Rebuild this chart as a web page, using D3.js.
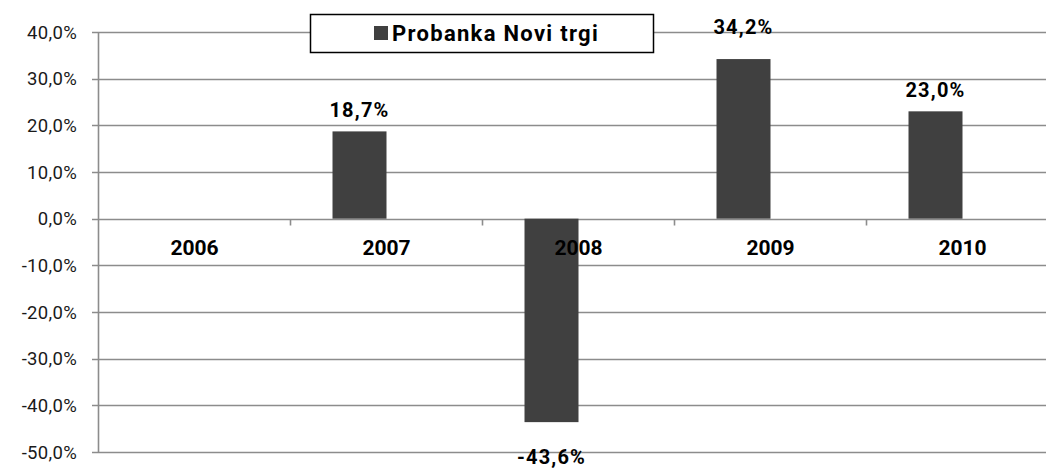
<!DOCTYPE html>
<html>
<head>
<meta charset="utf-8">
<script src="https://cdn.jsdelivr.net/npm/d3@7"></script>
<style>
  html, body { margin: 0; padding: 0; background: #fff; }
  svg { display: block; }
</style>
</head>
<body>
<svg id="chart" width="1046" height="470"></svg>
<script>
// ---- data ----
const years = ["2006", "2007", "2008", "2009", "2010"];
const values = [null, 18.7, -43.6, 34.2, 23.0];
const seriesName = "Probanka Novi trgi";
const yTickValues = [-50, -40, -30, -20, -10, 0, 10, 20, 30, 40];
const seriesSlots = ["Probanka Novi trgi", "(empty)"];

// ---- layout ----
(function () {
const W = 1046, H = 470;
const plotLeft = 98.5, plotTop = 32, plotBottom = 452;
const band = 192;
const svg = d3.select("#chart");
svg.append("rect").attr("width", W).attr("height", H).attr("fill", "#fff");

const loc = d3.formatLocale({decimal: ",", thousands: ".", grouping: [3], currency: ["", ""], minus: "-"});
const fmt = v => loc.format(".1f")(v) + "%";

const x = d3.scaleBand().domain(years).range([plotLeft, plotLeft + band * years.length]).padding(0);
const inner = d3.scaleBand().domain(seriesSlots).range([0, x.bandwidth()]).paddingInner(0).paddingOuter(0.778);
const y = d3.scaleLinear().domain([-50, 40]).range([plotBottom, plotTop]);

const grid = "#8c8c8c";
const txt = "#1a1a1a";

// gridlines
svg.append("g").selectAll("line").data(yTickValues).join("line")
  .attr("x1", plotLeft - 6.5).attr("x2", plotLeft + band * years.length)
  .attr("y1", d => Math.round(y(d)) + 0.5).attr("y2", d => Math.round(y(d)) + 0.5)
  .attr("stroke", grid).attr("stroke-width", 1.6);

// y axis line
svg.append("line").attr("x1", plotLeft).attr("x2", plotLeft)
  .attr("y1", y(40)).attr("y2", y(-50)).attr("stroke", grid).attr("stroke-width", 1.6);

// y tick labels
svg.append("g").selectAll("text").data(yTickValues).join("text")
  .attr("x", 77).attr("y", d => y(d)).attr("dy", "0.36em")
  .attr("text-anchor", "end")
  .attr("font-family", "Roboto, sans-serif").attr("font-size", 18.5)
  .attr("letter-spacing", 0.3)
  .attr("fill", txt)
  .text(d => fmt(d));

// category tick marks at band boundaries on zero line
const y0 = Math.round(y(0)) + 0.5;
svg.append("g").selectAll("line").data(years.slice(1).concat(["__end"])).join("line")
  .attr("x1", d => d === "__end" ? plotLeft + band * years.length : x(d))
  .attr("x2", d => d === "__end" ? plotLeft + band * years.length : x(d))
  .attr("y1", y0).attr("y2", y0 + 6)
  .attr("stroke", grid).attr("stroke-width", 1.6);

// bars
const data = years.map((yr, i) => ({year: yr, value: values[i]})).filter(d => d.value !== null);
const slot = seriesSlots[0];
svg.append("g").selectAll("rect").data(data).join("rect")
  .attr("x", d => x(d.year) + inner(slot))
  .attr("width", inner.bandwidth())
  .attr("y", d => y(Math.max(0, d.value)))
  .attr("height", d => Math.abs(y(d.value) - y(0)))
  .attr("fill", "#404040");

// category labels
svg.append("g").selectAll("text").data(years).join("text")
  .attr("x", d => x(d) + x.bandwidth() / 2).attr("y", 255)
  .attr("text-anchor", "middle")
  .attr("font-family", "Roboto, sans-serif").attr("font-weight", 700).attr("font-size", 21)
  .attr("fill", "#000")
  .text(d => d);

// value labels
const labelShift = {"2009": -11};
svg.append("g").selectAll("text").data(data).join("text")
  .attr("x", d => x(d.year) + inner(slot) + inner.bandwidth() / 2)
  .attr("y", d => d.value >= 0 ? y(d.value) - 14 + (labelShift[d.year] || 0) : y(d.value) + 42)
  .attr("text-anchor", "middle")
  .attr("font-family", "Roboto, sans-serif").attr("font-weight", 700).attr("font-size", 20)
  .attr("letter-spacing", 1.2)
  .attr("fill", "#000")
  .text(d => fmt(d.value));

// legend
const lg = svg.append("g");
lg.append("rect").attr("x", 310.5).attr("y", 14.5).attr("width", 343).attr("height", 38)
  .attr("fill", "#fff").attr("stroke", "#000").attr("stroke-width", 1.5);
lg.append("rect").attr("x", 374).attr("y", 26).attr("width", 14).attr("height", 14).attr("fill", "#404040");
lg.append("text").attr("x", 392).attr("y", 40.5)
  .attr("font-family", "Roboto, sans-serif").attr("font-weight", 700).attr("font-size", 22)
  .attr("letter-spacing", 1.3)
  .attr("fill", "#000")
  .text(seriesName);
})();
</script>
</body>
</html>
